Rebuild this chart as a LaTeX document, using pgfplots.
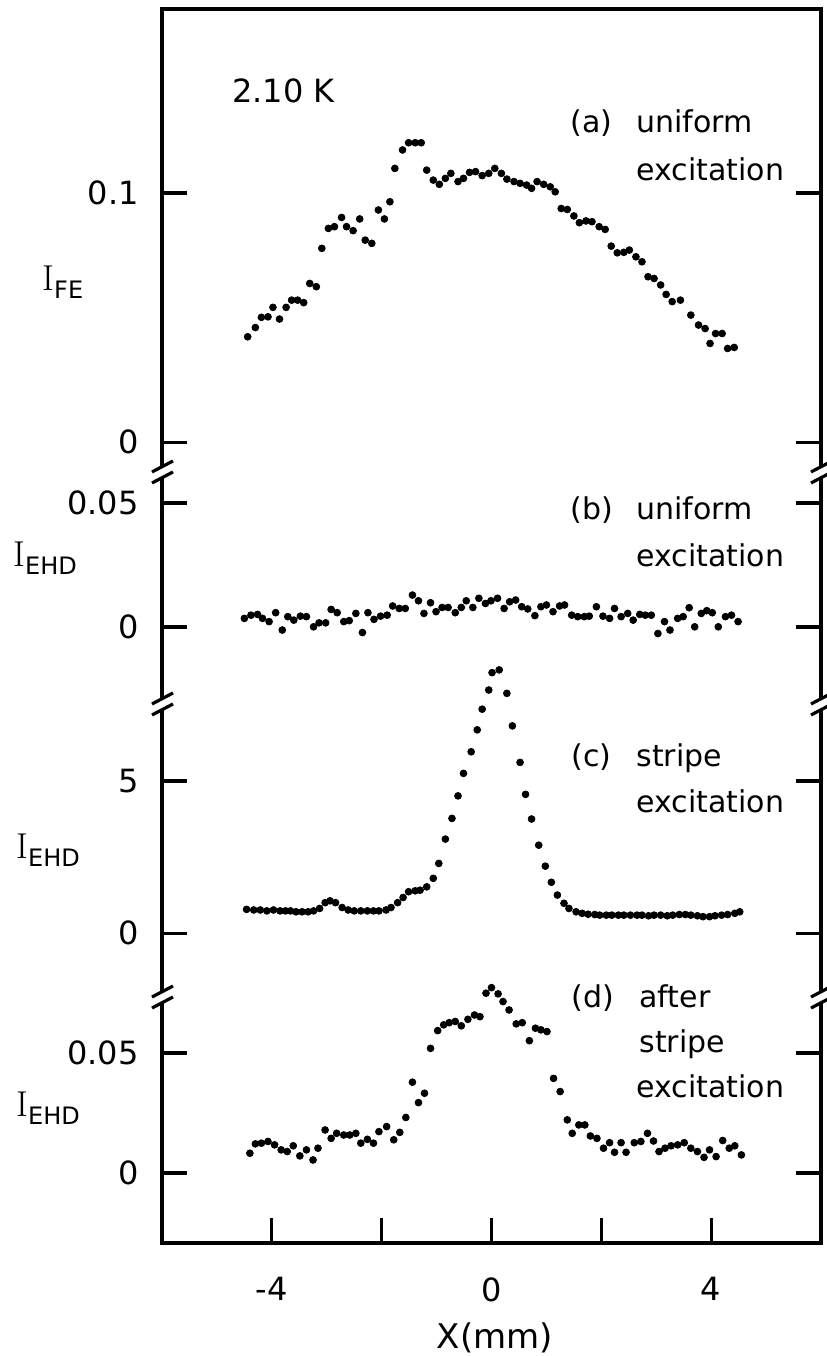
\documentclass[border=0pt]{standalone}
\usepackage{fontspec}
\setmainfont{DejaVu Sans}
\newfontfamily\serifI{Latin Modern Roman}
\usepackage{pgfplots}
\usepackage{pgfplotstable}
\pgfplotsset{compat=1.18}

% profiles: x in mm, intensity
\pgfplotstableread{
x y
-4.44 0.0423
-4.30 0.0460
-4.19 0.0501
-4.07 0.0503
-3.98 0.0541
-3.86 0.0494
-3.74 0.0541
-3.64 0.0570
-3.53 0.0570
-3.42 0.0560
-3.31 0.0637
-3.19 0.0624
-3.09 0.0778
-2.97 0.0858
-2.86 0.0865
-2.73 0.0902
-2.64 0.0865
-2.52 0.0849
-2.40 0.0896
-2.30 0.0811
-2.18 0.0798
-2.06 0.0932
-1.95 0.0896
-1.85 0.0965
-1.76 0.1099
-1.62 0.1173
-1.51 0.1202
-1.39 0.1202
-1.28 0.1202
-1.18 0.1092
-1.06 0.1052
-0.95 0.1035
-0.84 0.1059
-0.74 0.1079
-0.61 0.1046
-0.51 0.1059
-0.40 0.1083
-0.29 0.1086
-0.17 0.1070
-0.05 0.1079
0.06 0.1099
0.18 0.1079
0.28 0.1056
0.41 0.1046
0.52 0.1039
0.64 0.1032
0.73 0.1019
0.83 0.1046
0.95 0.1035
1.07 0.1025
1.16 0.1005
1.27 0.0938
1.38 0.0934
1.50 0.0908
1.60 0.0881
1.72 0.0888
1.83 0.0885
1.96 0.0865
2.07 0.0854
2.18 0.0787
2.29 0.0760
2.41 0.0762
2.51 0.0771
2.63 0.0744
2.74 0.0724
2.85 0.0664
2.96 0.0657
3.08 0.0631
3.18 0.0593
3.29 0.0564
3.44 0.0570
3.63 0.0510
3.77 0.0470
3.89 0.0456
3.98 0.0396
4.08 0.0436
4.20 0.0436
4.30 0.0376
4.42 0.0380
}\dataA

\pgfplotstableread{
x y
-4.50 0.0035
-4.38 0.0048
-4.26 0.0051
-4.17 0.0035
-4.05 0.0022
-3.93 0.0058
-3.81 -0.0012
-3.71 0.0042
-3.60 0.0028
-3.48 0.0044
-3.37 0.0042
-3.24 0.0001
-3.14 0.0017
-3.02 0.0017
-2.92 0.0071
-2.81 0.0058
-2.69 0.0022
-2.59 0.0026
-2.47 0.0055
-2.35 -0.0022
-2.25 0.0058
-2.14 0.0031
-2.02 0.0044
-1.90 0.0048
-1.80 0.0085
-1.68 0.0075
-1.57 0.0075
-1.44 0.0129
-1.33 0.0106
-1.23 0.0055
-1.11 0.0098
-1.01 0.0062
-0.90 0.0079
-0.79 0.0079
-0.66 0.0058
-0.55 0.0079
-0.46 0.0106
-0.34 0.0079
-0.23 0.0116
-0.11 0.0095
-0.01 0.0106
0.11 0.0116
0.23 0.0075
0.33 0.0102
0.44 0.0109
0.55 0.0082
0.66 0.0073
0.79 0.0046
0.90 0.0082
1.00 0.0089
1.12 0.0062
1.24 0.0085
1.33 0.0089
1.46 0.0048
1.57 0.0042
1.69 0.0042
1.78 0.0044
1.91 0.0082
2.03 0.0044
2.15 0.0035
2.24 0.0075
2.36 0.0042
2.48 0.0055
2.58 0.0028
2.70 0.0051
2.80 0.0048
2.91 0.0048
3.03 -0.0026
3.15 0.0022
3.25 -0.0012
3.39 0.0035
3.49 0.0042
3.60 0.0078
3.70 0.0001
3.82 0.0055
3.92 0.0066
4.02 0.0058
4.13 0.0001
4.26 0.0042
4.37 0.0048
4.49 0.0022
}\dataB

\pgfplotstableread{
x y
-4.46 0.78
-4.33 0.76
-4.21 0.76
-4.09 0.73
-3.97 0.76
-3.85 0.73
-3.75 0.73
-3.66 0.73
-3.56 0.70
-3.45 0.70
-3.34 0.70
-3.24 0.73
-3.13 0.81
-3.03 1.00
-2.94 1.06
-2.84 1.00
-2.72 0.84
-2.61 0.76
-2.50 0.73
-2.38 0.73
-2.26 0.73
-2.15 0.73
-2.05 0.73
-1.92 0.76
-1.83 0.84
-1.71 1.00
-1.61 1.17
-1.51 1.36
-1.39 1.39
-1.30 1.41
-1.18 1.52
-1.06 1.80
-0.96 2.29
-0.84 3.09
-0.72 3.77
-0.61 4.51
-0.51 5.25
-0.37 5.96
-0.26 6.68
-0.17 7.36
-0.05 7.99
0.01 8.56
0.14 8.65
0.28 7.88
0.38 6.81
0.52 5.61
0.62 4.56
0.73 3.75
0.86 2.89
0.98 2.20
1.09 1.67
1.20 1.25
1.32 0.98
1.41 0.81
1.54 0.70
1.65 0.65
1.76 0.62
1.88 0.61
1.97 0.59
2.09 0.59
2.19 0.59
2.31 0.59
2.41 0.59
2.53 0.59
2.65 0.59
2.74 0.59
2.86 0.57
2.96 0.59
3.08 0.59
3.20 0.57
3.30 0.59
3.42 0.61
3.53 0.61
3.63 0.59
3.75 0.57
3.85 0.54
3.97 0.54
4.07 0.57
4.19 0.59
4.30 0.61
4.43 0.65
4.52 0.70
}\dataC

\pgfplotstableread{
x y
-4.40 0.0082
-4.30 0.0121
-4.19 0.0124
-4.07 0.0131
-3.95 0.0117
-3.83 0.0096
-3.72 0.0089
-3.61 0.0113
-3.49 0.0071
-3.37 0.0096
-3.25 0.0054
-3.16 0.0103
-3.03 0.0179
-2.92 0.0144
-2.82 0.0165
-2.69 0.0158
-2.58 0.0158
-2.47 0.0165
-2.38 0.0124
-2.26 0.0140
-2.15 0.0124
-2.05 0.0172
-1.91 0.0193
-1.78 0.0138
-1.67 0.0169
-1.56 0.0231
-1.44 0.0378
-1.33 0.0293
-1.22 0.0332
-1.11 0.0519
-0.98 0.0593
-0.87 0.0617
-0.77 0.0626
-0.66 0.0631
-0.55 0.0613
-0.43 0.0640
-0.31 0.0658
-0.21 0.0651
-0.10 0.0749
0.00 0.0772
0.12 0.0746
0.21 0.0714
0.32 0.0679
0.45 0.0621
0.56 0.0626
0.69 0.0551
0.80 0.0603
0.90 0.0596
1.01 0.0589
1.13 0.0394
1.25 0.0339
1.38 0.0221
1.47 0.0165
1.59 0.0200
1.70 0.0200
1.80 0.0154
1.92 0.0144
2.04 0.0103
2.15 0.0126
2.24 0.0086
2.36 0.0126
2.45 0.0086
2.60 0.0126
2.72 0.0131
2.84 0.0165
2.95 0.0133
3.05 0.0089
3.16 0.0103
3.27 0.0113
3.39 0.0117
3.51 0.0126
3.63 0.0103
3.75 0.0089
3.87 0.0065
3.97 0.0096
4.09 0.0068
4.21 0.0135
4.33 0.0103
4.43 0.0113
4.55 0.0075
}\dataD

\pgfplotsset{
  panel/.style={
    anchor=south west, scale only axis,
    width=329.5pt, xmin=-6, xmax=6,
    clip=false, scaled y ticks=false,
    axis line style={draw=none},
    tick align=inside, ytick pos=both,
    major tick length=12.5pt,
    every tick/.style={black, line width=1.6pt},
    xtick=\empty,
    yticklabel style={anchor=east, inner sep=0pt, xshift=-11.5pt,
      font=\fontsize{16}{16}\selectfont},
  },
}
\tikzset{
  dots/.style={only marks, mark=*, mark size=1.7pt, black},
  frame/.style={line width=1.6pt, line join=miter, line cap=rect},
}
\newcommand\brk{%
  \fill[white] ([shift={(-1.5pt,-2.6pt)}]rel axis cs:0,1) rectangle ([shift={(1.5pt,2.6pt)}]rel axis cs:0,1);
  \fill[white] ([shift={(-1.5pt,-2.6pt)}]rel axis cs:1,1) rectangle ([shift={(1.5pt,2.6pt)}]rel axis cs:1,1);
  \draw[line width=1.6pt] ([shift={(-5pt,0pt)}]rel axis cs:0,1) -- ++(10.5pt,5.5pt);
  \draw[line width=1.6pt] ([shift={(-5pt,-5.5pt)}]rel axis cs:0,1) -- ++(10.5pt,5.5pt);
  \draw[line width=1.6pt] ([shift={(-5pt,0pt)}]rel axis cs:1,1) -- ++(10.5pt,5.5pt);
  \draw[line width=1.6pt] ([shift={(-5pt,-5.5pt)}]rel axis cs:1,1) -- ++(10.5pt,5.5pt);
}
\newcommand\ylab[1]{{\serifI\fontsize{18}{18}\selectfont I}\raisebox{-4pt}{\fontsize{12}{12}\selectfont #1}}

\begin{document}
\begin{tikzpicture}
\useasboundingbox (0,0) rectangle (413pt,678pt);

% (a)
\begin{axis}[panel, at={(81pt,442pt)}, height=231.5pt,
  ymin=-0.012, ymax=0.1739, ytick={0,0.1}, yticklabels={0,0.1}]
  \addplot[dots] table {\dataA};
  \draw[frame] (rel axis cs:0,0) -- (rel axis cs:0,1) -- (rel axis cs:1,1) -- (rel axis cs:1,0);
\end{axis}

% (b)
\begin{axis}[panel, at={(81pt,326pt)}, height=116pt,
  ymin=-0.031, ymax=0.0625, ytick={0,0.05}, yticklabels={0,0.05}]
  \addplot[dots] table {\dataB};
  \draw[frame] (rel axis cs:0,0) -- (rel axis cs:0,1);
  \draw[frame] (rel axis cs:1,0) -- (rel axis cs:1,1);
  \brk
\end{axis}

% (c)
\begin{axis}[panel, at={(81pt,179.5pt)}, height=146.5pt,
  ymin=-2.1, ymax=7.53, ytick={0,5}, yticklabels={0,5}]
  \addplot[dots] table {\dataC};
  \draw[frame] (rel axis cs:0,0) -- (rel axis cs:0,1);
  \draw[frame] (rel axis cs:1,0) -- (rel axis cs:1,1);
  \brk
\end{axis}

% (d)
\begin{axis}[panel, at={(81pt,56.5pt)}, height=123pt,
  ymin=-0.0292, ymax=0.0733, ytick={0,0.05}, yticklabels={0,0.05},
  xtick={-4,-2,0,2,4}, xticklabels={-4,,0,,4}, xtick pos=left,
  xticklabel style={anchor=north, inner sep=0pt, yshift=-17pt,
    font=\fontsize{16}{16}\selectfont}]
  \addplot[dots] table {\dataD};
  \draw[frame] (rel axis cs:0,1) -- (rel axis cs:0,0) -- (rel axis cs:1,0) -- (rel axis cs:1,1);
  \brk
\end{axis}

% labels
\begin{scope}[every node/.style={inner sep=0pt, anchor=base west}]
  \node at (21pt,532.5pt) {\ylab{FE}};
  \node at (6.5pt,394.5pt) {\ylab{EHD}};
  \node at (8pt,248.5pt) {\ylab{EHD}};
  \node at (8pt,119.5pt) {\ylab{EHD}};
  \node[font=\fontsize{16}{16}\selectfont] at (116pt,626.5pt) {2.10 K};
  \begin{scope}[font=\fontsize{15}{15}\selectfont]
    \node at (285pt,611.5pt) {(a)};
    \node at (318pt,611.5pt) {uniform};
    \node at (318pt,587.5pt) {excitation};
    \node at (285pt,418pt) {(b)};
    \node at (318pt,418pt) {uniform};
    \node at (318pt,394.5pt) {excitation};
    \node at (285.5pt,294.5pt) {(c)};
    \node at (318pt,294.5pt) {stripe};
    \node at (318pt,271.5pt) {excitation};
    \node at (285.5pt,174pt) {(d)};
    \node at (319.5pt,174pt) {after};
    \node at (319.5pt,151.5pt) {stripe};
    \node at (318pt,129pt) {excitation};
  \end{scope}
  \node[anchor=base, font=\fontsize{17}{17}\selectfont] at (247.5pt,4pt) {X(mm)};
\end{scope}
\end{tikzpicture}
\end{document}
